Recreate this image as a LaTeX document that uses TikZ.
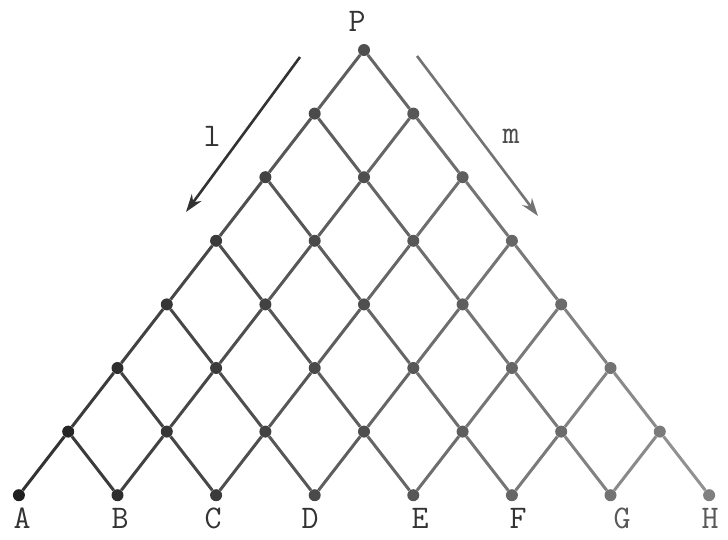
\documentclass[tikz,border=0pt]{standalone}
\usetikzlibrary{arrows.meta}
\tikzset{
  dot/.style={circle, inner sep=0pt, minimum size=12pt},
  edge/.style={line width=3pt},
  lbl/.style={font=\ttfamily\fontsize{33}{33}\selectfont, text=black!80, inner sep=0pt},
  dirarrow/.style={line width=2.6pt, -{Stealth[length=18pt,width=12pt]}}
}
\begin{document}
\begin{tikzpicture}[x=1pt,y=-1pt]
\fill[white] (0,0) rectangle (728,539);
\useasboundingbox (0,0) rectangle (728,539);
% nodes
\foreach \r in {0,...,7}{
  \foreach \k in {0,...,\r}{
    \pgfmathsetmacro\xx{364+(2*\k-\r)*49.3}
    \pgfmathsetmacro\yy{50+\r*63.6}
    \pgfmathtruncatemacro\sh{88-(\xx-20)/690*38}
    \node[dot, fill=black!\sh] (n\r-\k) at (\xx,\yy) {};
  }
}
% edges
\foreach \r in {0,...,6}{
  \pgfmathtruncatemacro\rr{\r+1}
  \foreach \k in {0,...,\r}{
    \pgfmathtruncatemacro\kk{\k+1}
    \pgfmathsetmacro\xl{364+(2*\k-\r-0.5)*49.3}
    \pgfmathsetmacro\xr{364+(2*\k-\r+0.5)*49.3}
    \pgfmathtruncatemacro\shl{82-(\xl-20)/690*40}
    \pgfmathtruncatemacro\shr{82-(\xr-20)/690*40}
    \draw[edge, draw=black!\shl] (n\r-\k) -- (n\rr-\k);
    \draw[edge, draw=black!\shr] (n\r-\k) -- (n\rr-\kk);
  }
}
% labels
\node[lbl] (lP) at (357,21) {P};
\node[lbl] (lA) at (22,518) {A};
\node[lbl] (lB) at (120,518) {B};
\node[lbl] (lC) at (213,518) {C};
\node[lbl] (lD) at (310,518) {D};
\node[lbl] (lE) at (420,518) {E};
\node[lbl] (lF) at (518,518) {F};
\node[lbl, text=black!65] (lG) at (622,518) {G};
\node[lbl, text=black!65] (lH) at (710,518) {H};
% direction arrows
\coordinate (l1) at (300,57);
\coordinate (l2) at (186,212);
\coordinate (m1) at (417,56);
\coordinate (m2) at (538,216);
\draw[dirarrow, draw=black!80, fill=black!80] (l1) -- (l2);
\draw[dirarrow, draw=black!55, fill=black!55] (m1) -- (m2);
\node[lbl] (ll) at (212,136) {l};
\node[lbl, text=black!70] (lm) at (511,136) {m};
\end{tikzpicture}
\end{document}
